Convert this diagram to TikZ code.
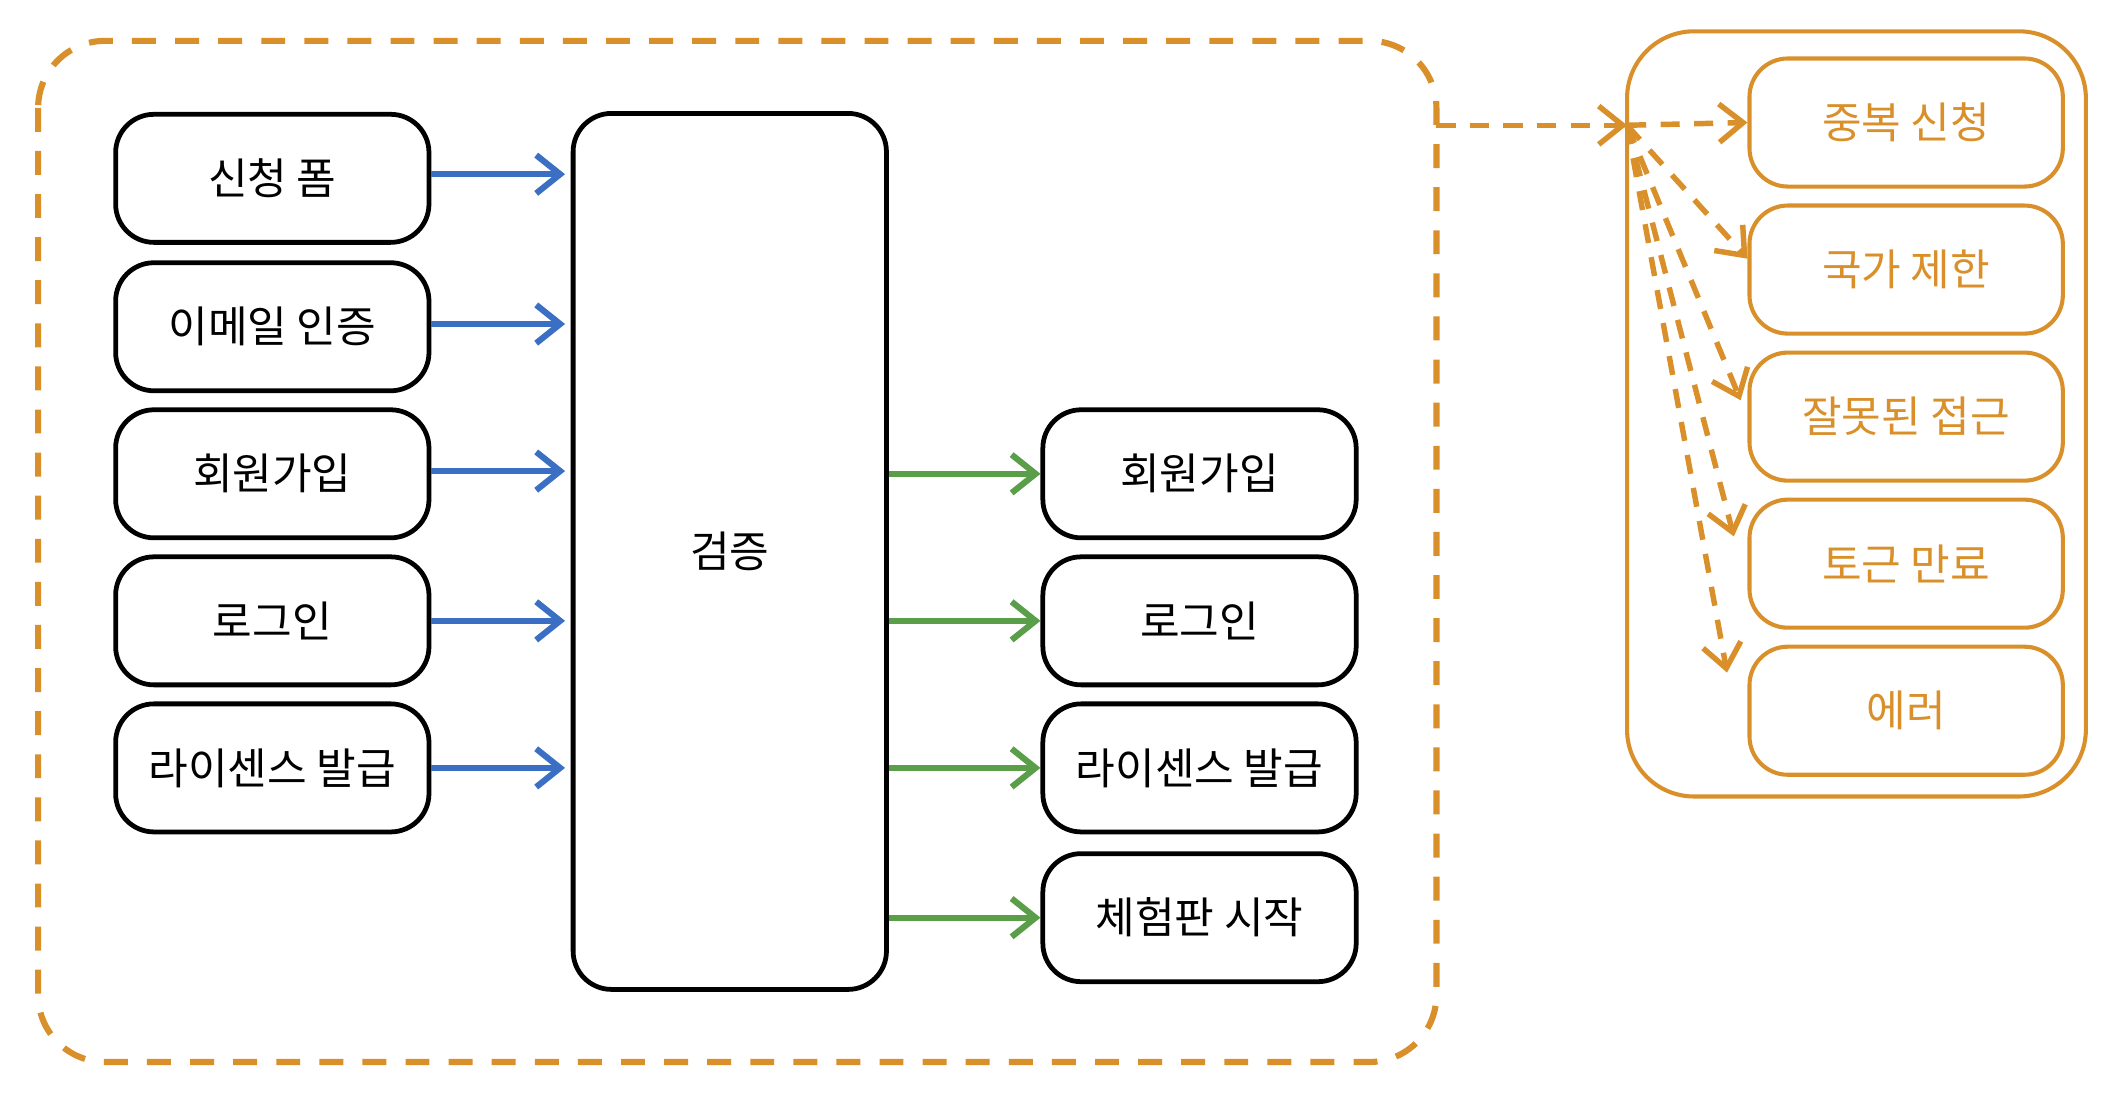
\documentclass[tikz,border=0pt]{standalone}
\usepackage{fontspec}
\setmainfont{Noto Sans CJK KR}
\usetikzlibrary{arrows.meta,positioning,calc}
\definecolor{warnorange}{HTML}{D9902A}
\definecolor{inblue}{HTML}{3A6FC4}
\definecolor{outgreen}{HTML}{5A9E4A}
\begin{document}
\begin{tikzpicture}[x=0.01cm,y=-0.01cm,font=\small,
  >={Straight Barb[length=5pt,width=8pt]}]

\tikzset{
  flowbox/.style={rectangle, rounded corners=8pt, draw=black, line width=0.35mm,
    minimum width=2.3cm, minimum height=0.94cm, text=black},
  errbox/.style={flowbox, draw=warnorange, line width=0.3mm, text=warnorange},
  inarrow/.style={->, draw=inblue, line width=0.45mm},
  outarrow/.style={->, draw=outgreen, line width=0.45mm},
  errarrow/.style={->, draw=warnorange, line width=0.4mm, dash pattern=on 4pt off 3pt}
}

\useasboundingbox (0,0) rectangle (1560,822);

% outer frames
\draw[warnorange, line width=0.45mm, dash pattern=on 5pt off 4pt, rounded corners=14pt]
  (28,30) rectangle (1055,780);
\draw[warnorange, line width=0.3mm, rounded corners=14pt]
  (1195,23) rectangle (1532,585);

% inputs
\node[flowbox] (form) at (200,131) {신청 폼};
\node[flowbox] (mail) at (200,240) {이메일 인증};
\node[flowbox] (join) at (200,348) {회원가입};
\node[flowbox] (login) at (200,456) {로그인};
\node[flowbox] (lic) at (200,564) {라이센스 발급};

% validation
\node[flowbox, minimum height=6.43cm] (check) at (536,405) {검증};

% outputs
\node[flowbox] (ojoin) at (881,348) {회원가입};
\node[flowbox] (ologin) at (881,456) {로그인};
\node[flowbox] (olic) at (881,564) {라이센스 발급};
\node[flowbox] (trial) at (881,674) {체험판 시작};

% errors
\node[errbox] (dup) at (1400,90) {중복 신청};
\node[errbox] (geo) at (1400,198) {국가 제한};
\node[errbox] (bad) at (1400,306) {잘못된 접근};
\node[errbox] (tok) at (1400,414) {토근 만료};
\node[errbox] (fail) at (1400,522) {에러};

\coordinate (hub) at (1195,92);

\foreach \n/\y in {form/128,mail/238,join/346,login/456,lic/564}
  \draw[inarrow] (\n.east |- 0,\y) -- (415,\y);
\foreach \n in {ojoin,ologin,olic,trial}
  \draw[outarrow] (check.east |- \n) -- (\n.west);

\draw[errarrow] (1055,92) -- (hub);
\draw[errarrow] (hub) -- (dup.west);
\draw[errarrow] (hub) -- ($(geo.west)+(0,-8)$);
\draw[errarrow] (hub) -- ($(bad.west)+(-5,-12)$);
\draw[errarrow] (hub) -- ($(tok.west)+(-10,-20)$);
\draw[errarrow] (hub) -- ($(fail.west)+(-15,-28)$);

\end{tikzpicture}
\end{document}
